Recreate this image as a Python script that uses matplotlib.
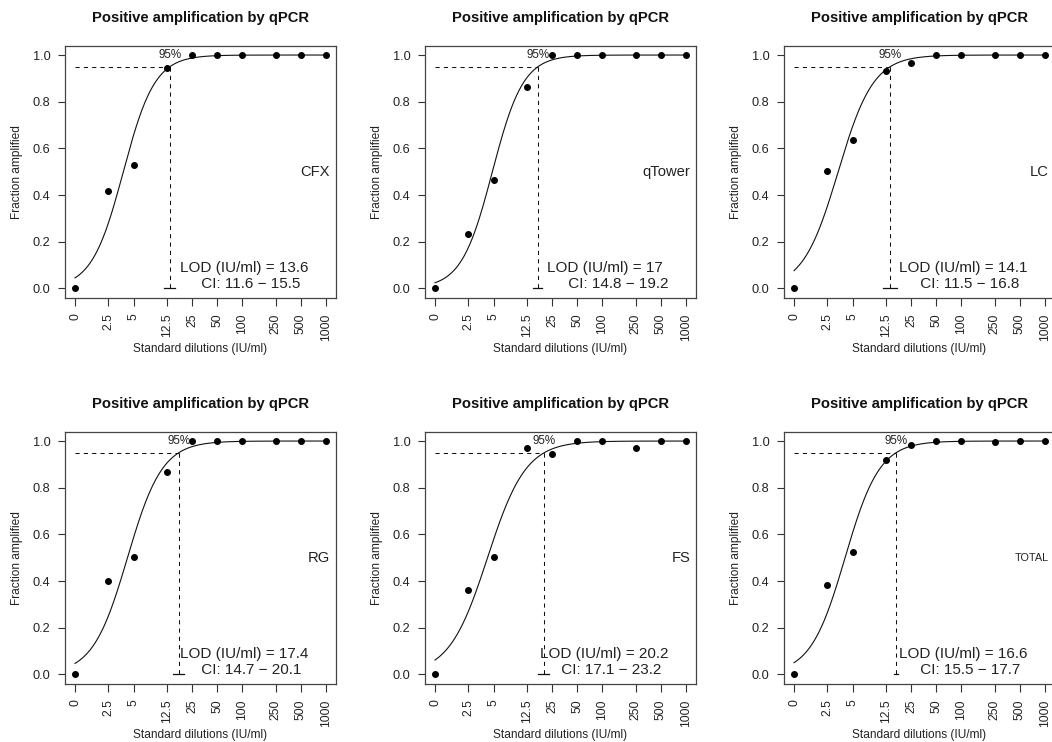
"""
qPCR positive amplification (probit-style fit) per instrument, 2x3 panels.
Saves out.png.
"""

import numpy as np
import matplotlib
matplotlib.use("Agg")
import matplotlib.pyplot as plt

plt.rcParams["font.family"] = ["Liberation Sans", "DejaVu Sans"]
plt.rcParams["axes.unicode_minus"] = False

# ---------------------------------------------------------------------------
# Data
# ---------------------------------------------------------------------------

DILUTION_LABELS = ["0", "2.5", "5", "12.5", "25", "50", "100", "250", "500", "1000"]
# 0 IU/ml is plotted at log10(1) = 0
DILUTIONS = [1, 2.5, 5, 12.5, 25, 50, 100, 250, 500, 1000]

PANELS = ["CFX", "qTower", "LC", "RG", "FS", "TOTAL"]

frac_cfx    = [0.0, 0.416, 0.529, 0.943, 1.0, 1.0, 1.0, 1.0, 1.0, 1.0]
frac_qtower = [0.0, 0.231, 0.466, 0.864, 1.0, 1.0, 1.0, 1.0, 1.0, 1.0]
frac_lc     = [0.0, 0.501, 0.634, 0.933, 0.967, 1.0, 1.0, 1.0, 1.0, 1.0]
frac_rg     = [0.0, 0.400, 0.502, 0.867, 1.0, 1.0, 1.0, 1.0, 1.0, 1.0]
frac_fs     = [0.0, 0.361, 0.502, 0.971, 0.944, 1.0, 1.0, 0.971, 1.0, 1.0]
frac_total  = [0.0, 0.385, 0.525, 0.920, 0.984, 1.0, 1.0, 0.996, 1.0, 1.0]
FRACTIONS = [frac_cfx, frac_qtower, frac_lc, frac_rg, frac_fs, frac_total]

LOD = [13.6, 17, 14.1, 17.4, 20.2, 16.6]
CI_LOW = [11.6, 14.8, 11.5, 14.7, 17.1, 15.5]
CI_HIGH = [15.5, 19.2, 16.8, 20.1, 23.2, 17.7]
LOD_TXT = ["13.6", "17", "14.1", "17.4", "20.2", "16.6"]

# fitted curve value at the lowest dose (x = 0)
P_START = [0.045, 0.024, 0.076, 0.047, 0.0615, 0.05]

# ---------------------------------------------------------------------------
# Plot
# ---------------------------------------------------------------------------

W, H = 1052, 742
fig = plt.figure(figsize=(W / 100, H / 100), dpi=100)

AX_W, AX_H = 271, 252
LEFTS = [65, 425, 784]
TOPS = [45.7, 431.7]
TXT = "#222222"

xs = np.log10(DILUTIONS)
logit = lambda p: np.log(p / (1 - p))

for i, name in enumerate(PANELS):
    row, col = divmod(i, 3)
    left, top = LEFTS[col], TOPS[row]
    ax = fig.add_axes([left / W, 1 - (top + AX_H) / H, AX_W / W, AX_H / H])

    # logistic fit in log10 dose, passing 0.95 at the LOD
    lod_x = np.log10(LOD[i])
    a = logit(P_START[i])
    b = (logit(0.95) - a) / lod_x
    xc = np.linspace(0, 3, 300)
    ax.plot(xc, 1 / (1 + np.exp(-(a + b * xc))), color="#111111", lw=0.8)

    ax.plot(xs, FRACTIONS[i], "o", color="black", ms=4, zorder=3)

    ax.plot([0, lod_x], [0.95, 0.95], color="#111111", lw=0.75, ls=(0, (4, 4)))
    ax.plot([lod_x, lod_x], [0.95, 0], color="#111111", lw=0.75, ls=(0, (4, 4)))
    ax.plot([np.log10(CI_LOW[i]), np.log10(CI_HIGH[i])], [0, 0], color="#111111", lw=0.9)
    ax.text(lod_x, 1.0, "95%", ha="center", va="center", fontsize=8.4, color=TXT)

    ax.text(0.978, 0.5, name, transform=ax.transAxes, ha="right", va="center",
            fontsize=7.8 if name == "TOTAL" else 10.6, color=TXT)
    ax.text(0.898, 0.028, f"LOD (IU/ml) = {LOD_TXT[i]}\n     CI: {CI_LOW[i]} \u2212 {CI_HIGH[i]}",
            transform=ax.transAxes, ha="right", va="bottom", multialignment="left",
            fontsize=11, color=TXT, linespacing=1.15)

    ax.set_xlim(-0.12, 3.12)
    ax.set_ylim(-0.04, 1.04)
    ax.set_xticks(xs)
    ax.set_xticklabels(DILUTION_LABELS, rotation=90)
    ax.set_yticks([0, 0.2, 0.4, 0.6, 0.8, 1.0])
    ax.set_yticklabels(["0.0", "0.2", "0.4", "0.6", "0.8", "1.0"])
    ax.tick_params(axis="both", length=5.4, width=0.8, color="#333333", labelcolor=TXT)
    ax.tick_params(axis="y", pad=5, labelsize=9.2)
    ax.tick_params(axis="x", pad=6, labelsize=8.7)
    for s in ax.spines.values():
        s.set_color("#444444")
        s.set_linewidth(0.9)

    ax.set_title("Positive amplification by qPCR", fontsize=10.6, fontweight="bold",
                 color="#111111", pad=17)
    ax.text(-48 / AX_W, 0.5, "Fraction amplified", transform=ax.transAxes, rotation=90,
            ha="center", va="center", fontsize=8.6, color=TXT)
    ax.text(0.5, -51.7 / AX_H, "Standard dilutions (IU/ml)", transform=ax.transAxes,
            ha="center", va="center", fontsize=8.6, color=TXT)

fig.savefig("out.png", dpi=100)
print("Saved: out.png")
